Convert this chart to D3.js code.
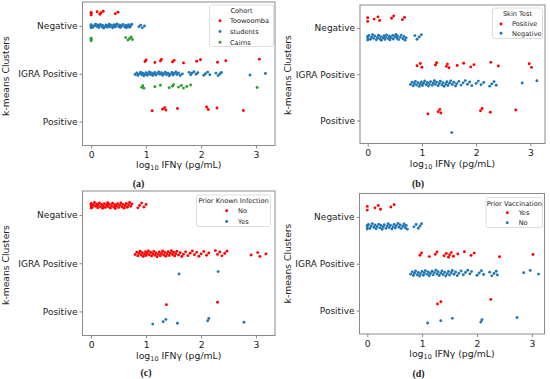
<!DOCTYPE html>
<html><head><meta charset="utf-8">
<script src="https://cdn.jsdelivr.net/npm/d3@7"></script>
<style>
html,body{margin:0;padding:0;background:#fff;}
svg{display:block;}
text{font-family:"DejaVu Sans",sans-serif;fill:#222;}
</style></head>
<body>
<svg id="chart" width="550" height="379"></svg>
<script>
// ---------- shared categories / ticks ----------
const clusters = ["Negative", "IGRA Positive", "Positive"];
const xTicks = [0, 1, 2, 3];
const colors = ["#ff0000", "#1f77b4", "#2ca02c"];

// ---------- panel (a): Cohort ----------
const aHues = ["Toowoomba", "students", "Cairns"];
const aToowoomba = [
  [0, 0, 0, 0.11, 0.16, 0.18, 0.22, 0.44, 0.49],
  [0.98, 1.0, 1.16, 1.26, 1.28, 1.48, 1.51, 1.68, 1.92, 1.99, 2.30, 2.45, 3.06],
  [1.11, 1.30, 1.34, 1.36, 1.57, 2.10, 2.13, 2.29, 2.77]
];
const aStudents = [
  [0, 0, 0, 0, 0.03, 0.06, 0.08, 0.1, 0.12, 0.14, 0.15, 0.17, 0.2, 0.21, 0.23, 0.26, 0.27, 0.29, 0.31, 0.33, 0.34, 0.37, 0.39, 0.4, 0.42, 0.44, 0.45, 0.47, 0.5, 0.52, 0.53, 0.56, 0.58, 0.61, 0.63, 0.64, 0.66, 0.68, 0.7, 0.72, 0.74, 0.87, 0.9, 0.93, 0.97],
  [0.8, 0.83, 0.85, 0.88, 0.9, 0.92, 0.94, 0.96, 0.98, 1.0, 1.02, 1.04, 1.06, 1.08, 1.1, 1.12, 1.14, 1.16, 1.18, 1.21, 1.23, 1.25, 1.28, 1.3, 1.32, 1.35, 1.37, 1.4, 1.42, 1.44, 1.47, 1.49, 1.51, 1.54, 1.56, 1.59, 1.62, 1.66, 1.78, 1.81, 1.83, 1.87, 1.91, 1.94, 2.05, 2.08, 2.12, 2.16, 2.27, 2.31, 2.34, 2.37, 2.89, 3.17],
  []
];
const aCairns = [
  [0, 0, 0, 0.63, 0.67, 0.70, 0.73, 0.75],
  [0.92, 0.94, 0.96, 1.16, 1.26, 1.42, 1.48, 1.50, 1.59, 1.64, 1.68, 1.74, 1.81, 3.02],
  []
];

// ---------- panel (b): Skin Test ----------
const bHues = ["Positive", "Negative"];
const bPositive = [
  [0, 0, 0.12, 0.19, 0.22, 0.44, 0.48, 0.64, 0.68],
  [0.91, 0.97, 1.0, 1.25, 1.27, 1.45, 1.47, 1.50, 1.65, 1.77, 1.90, 1.96, 2.27, 2.41, 2.98, 3.02],
  [1.11, 1.30, 1.33, 1.35, 2.08, 2.11, 2.26, 2.73]
];
const bNegative = [
  [0, 0, 0, 0.02, 0.05, 0.07, 0.09, 0.11, 0.13, 0.16, 0.18, 0.2, 0.22, 0.24, 0.25, 0.28, 0.3, 0.32, 0.33, 0.35, 0.38, 0.4, 0.41, 0.43, 0.46, 0.47, 0.5, 0.52, 0.54, 0.55, 0.57, 0.6, 0.62, 0.65, 0.67, 0.69, 0.71, 0.87, 0.91, 0.95, 0.99],
  [0.79, 0.82, 0.84, 0.86, 0.88, 0.9, 0.93, 0.95, 0.97, 0.99, 1.01, 1.03, 1.05, 1.08, 1.1, 1.12, 1.14, 1.16, 1.19, 1.21, 1.23, 1.25, 1.27, 1.3, 1.32, 1.34, 1.37, 1.39, 1.41, 1.44, 1.46, 1.48, 1.51, 1.53, 1.56, 1.59, 1.62, 1.64, 1.68, 1.72, 1.76, 1.8, 1.84, 1.88, 1.92, 2.0, 2.04, 2.09, 2.14, 2.25, 2.29, 2.33, 2.37, 2.85, 3.12],
  [1.55]
];

// ---------- panel (c): Prior Known Infection ----------
const cHues = ["No", "Yes"];
const cNo = [
  [0, 0, 0, 0, 0.02, 0.04, 0.06, 0.08, 0.1, 0.12, 0.13, 0.15, 0.17, 0.19, 0.21, 0.22, 0.24, 0.26, 0.28, 0.3, 0.31, 0.33, 0.35, 0.37, 0.39, 0.41, 0.43, 0.44, 0.46, 0.48, 0.5, 0.52, 0.54, 0.56, 0.58, 0.6, 0.62, 0.64, 0.66, 0.68, 0.7, 0.72, 0.74, 0.85, 0.88, 0.92, 0.96, 1.0],
  [0.8, 0.83, 0.85, 0.87, 0.89, 0.91, 0.93, 0.95, 0.97, 0.99, 1.0, 1.02, 1.04, 1.06, 1.08, 1.1, 1.12, 1.14, 1.16, 1.18, 1.2, 1.22, 1.24, 1.26, 1.28, 1.3, 1.32, 1.34, 1.36, 1.38, 1.4, 1.42, 1.44, 1.46, 1.48, 1.5, 1.52, 1.54, 1.56, 1.59, 1.62, 1.65, 1.68, 1.72, 1.76, 1.8, 1.84, 1.88, 1.92, 1.96, 2.0, 2.05, 2.1, 2.14, 2.26, 2.3, 2.34, 2.38, 2.43, 2.47, 2.91, 3.03, 3.07, 3.18],
  [1.37, 2.30]
];
const cYes = [
  [],
  [1.60, 2.31],
  [1.12, 1.31, 1.36, 1.57, 2.12, 2.14, 2.78]
];

// ---------- panel (d): Prior Vaccination ----------
const dHues = ["Yes", "No"];
const dYes = [
  [0, 0, 0.14, 0.2, 0.24, 0.43, 0.49],
  [0.96, 0.99, 1.13, 1.24, 1.27, 1.40, 1.44, 1.48, 1.50, 1.53, 1.57, 1.65, 1.77, 1.89, 1.95, 2.41, 3.02],
  [1.28, 1.34, 2.25]
];
const dNo = [
  [0, 0, 0, 0.02, 0.05, 0.07, 0.09, 0.12, 0.14, 0.16, 0.18, 0.21, 0.23, 0.25, 0.27, 0.29, 0.31, 0.34, 0.36, 0.38, 0.4, 0.42, 0.45, 0.47, 0.49, 0.51, 0.53, 0.56, 0.58, 0.6, 0.62, 0.65, 0.67, 0.69, 0.71, 0.73, 0.85, 0.89, 0.93, 0.96, 0.99],
  [0.79, 0.82, 0.84, 0.86, 0.88, 0.91, 0.93, 0.95, 0.97, 1.0, 1.02, 1.04, 1.06, 1.09, 1.11, 1.13, 1.15, 1.18, 1.2, 1.22, 1.25, 1.27, 1.29, 1.31, 1.34, 1.36, 1.38, 1.41, 1.43, 1.46, 1.48, 1.5, 1.53, 1.55, 1.58, 1.61, 1.64, 1.67, 1.71, 1.75, 1.79, 1.83, 1.87, 1.9, 2.0, 2.04, 2.08, 2.12, 2.23, 2.27, 2.31, 2.35, 2.37, 2.85, 2.97, 3.12],
  [1.10, 1.34, 1.55, 2.07, 2.09, 2.73]
];

// ---------- layout ----------
const panels = [
  {series: [aToowoomba, aStudents, aCairns], hues: aHues, title: "Cohort", caption: "(a)",
   box: {l: 82.5, r: 275, t: 2, b: 145.5}, xdom: [-0.157, 3.345],
   legend: {l: 209.5, r: 273.5, t: 5, b: 46.5, ty: 10.7, rows: [20.7, 31.5, 42.2], mx: 220, tx: 230},
   capX: 138.5, capY: 187, xlabY: 168, ylabX: 6, ylabY: 76},
  {series: [bPositive, bNegative], hues: bHues, title: "Skin Test", caption: "(b)",
   box: {l: 360, r: 545, t: 5, b: 143.5}, xdom: [-0.142, 3.27],
   legend: {l: 492.5, r: 542.5, t: 8, b: 38.5, ty: 14, rows: [24, 33.3], mx: 501, tx: 512},
   capX: 418, capY: 187, xlabY: 166.5, ylabX: 287.5, ylabY: 75},
  {series: [cNo, cYes], hues: cHues, title: "Prior Known Infection", caption: "(c)",
   box: {l: 82.5, r: 275, t: 191, b: 335.5}, xdom: [-0.157, 3.345],
   legend: {l: 196.5, r: 270.5, t: 195, b: 226.5, ty: 200.7, rows: [210.7, 221.5], mx: 226.7, tx: 238},
   capX: 146, capY: 375.5, xlabY: 358.5, ylabX: 6, ylabY: 265},
  {series: [dYes, dNo], hues: dHues, title: "Prior Vaccination", caption: "(d)",
   box: {l: 359.5, r: 544.5, t: 193.5, b: 334}, xdom: [-0.142, 3.23],
   legend: {l: 486, r: 542.5, t: 197.5, b: 227.5, ty: 203.3, rows: [212.7, 222.7], mx: 507.3, tx: 518.7},
   capX: 418.5, capY: 376.5, xlabY: 356.8, ylabX: 287.5, ylabY: 263.5}
];

const svg = d3.select("#chart");
const frac = i => { const v = (i * 0.6180339887 + 0.31) % 1; return v * 2 - 1; };

panels.forEach(p => {
  const g = svg.append("g");
  const B = p.box;
  const x = d3.scaleLinear().domain(p.xdom).range([B.l, B.r]);
  const y = d3.scaleLinear().domain([-0.5, 2.5]).range([B.t, B.b]);
  const n = p.hues.length;
  const w = 0.8 / n;

  // points
  p.series.forEach((ser, h) => {
    const off = (h - (n - 1) / 2) * w;
    ser.forEach((vals, ci) => {
      g.append("g").selectAll("circle").data(vals).join("circle")
        .attr("cx", d => x(d))
        .attr("cy", (d, i) => y(ci + off + frac(i + ci * 7 + h * 13) * w * 0.16))
        .attr("r", 1.45)
        .attr("fill", colors[h]);
    });
  });

  // frame
  g.append("rect").attr("x", B.l).attr("y", B.t).attr("width", B.r - B.l).attr("height", B.b - B.t)
    .attr("fill", "none").attr("stroke", "#8a8a8a").attr("stroke-width", 1);

  // x axis
  const xa = d3.axisBottom(x).tickValues(xTicks).tickSize(3).tickPadding(3).tickFormat(d3.format("d"));
  const gx = g.append("g").attr("transform", `translate(0,${B.b})`).call(xa);
  gx.select(".domain").remove();
  gx.selectAll("line").attr("stroke", "#8a8a8a");
  gx.selectAll("text").style("font-size", "9.2px").attr("fill", "#222");

  // y axis
  const ya = d3.axisLeft(y).tickValues([0, 1, 2]).tickSize(3).tickPadding(2).tickFormat(i => clusters[i]);
  const gy = g.append("g").attr("transform", `translate(${B.l},0)`).call(ya);
  gy.select(".domain").remove();
  gy.selectAll("line").attr("stroke", "#8a8a8a");
  gy.selectAll("text").style("font-size", "9px").attr("fill", "#222");

  // axis labels
  const xl = g.append("text").attr("x", (B.l + B.r) / 2).attr("y", p.xlabY)
    .attr("text-anchor", "middle").style("font-size", "9.3px");
  xl.append("tspan").text("log");
  xl.append("tspan").text("10").style("font-size", "6.5px").attr("dy", 2);
  xl.append("tspan").text(" IFNγ (pg/mL)").attr("dy", -2);

  g.append("text").attr("transform", `translate(${p.ylabX + 3},${p.ylabY}) rotate(-90)`)
    .attr("text-anchor", "middle").style("font-size", "9.2px").text("k-means Clusters");

  // caption
  g.append("text").attr("x", p.capX).attr("y", p.capY).attr("text-anchor", "middle")
    .style("font-family", "'Liberation Serif', serif").style("font-size", "10px").style("font-weight", "bold")
    .text(p.caption);

  // legend
  const L = p.legend;
  g.append("rect").attr("x", L.l).attr("y", L.t).attr("width", L.r - L.l).attr("height", L.b - L.t)
    .attr("rx", 2).attr("fill", "#fff").attr("fill-opacity", 0.85).attr("stroke", "#d6d6d6").attr("stroke-width", 0.8);
  g.append("text").attr("x", (L.l + L.r) / 2).attr("y", L.ty).attr("dy", "0.35em")
    .attr("text-anchor", "middle").style("font-size", "6.6px").text(p.title);
  p.hues.forEach((hname, h) => {
    g.append("circle").attr("cx", L.mx).attr("cy", L.rows[h]).attr("r", 1.45).attr("fill", colors[h]);
    g.append("text").attr("x", L.tx).attr("y", L.rows[h]).attr("dy", "0.35em")
      .style("font-size", "6.6px").text(hname);
  });
});
</script>
</body></html>
